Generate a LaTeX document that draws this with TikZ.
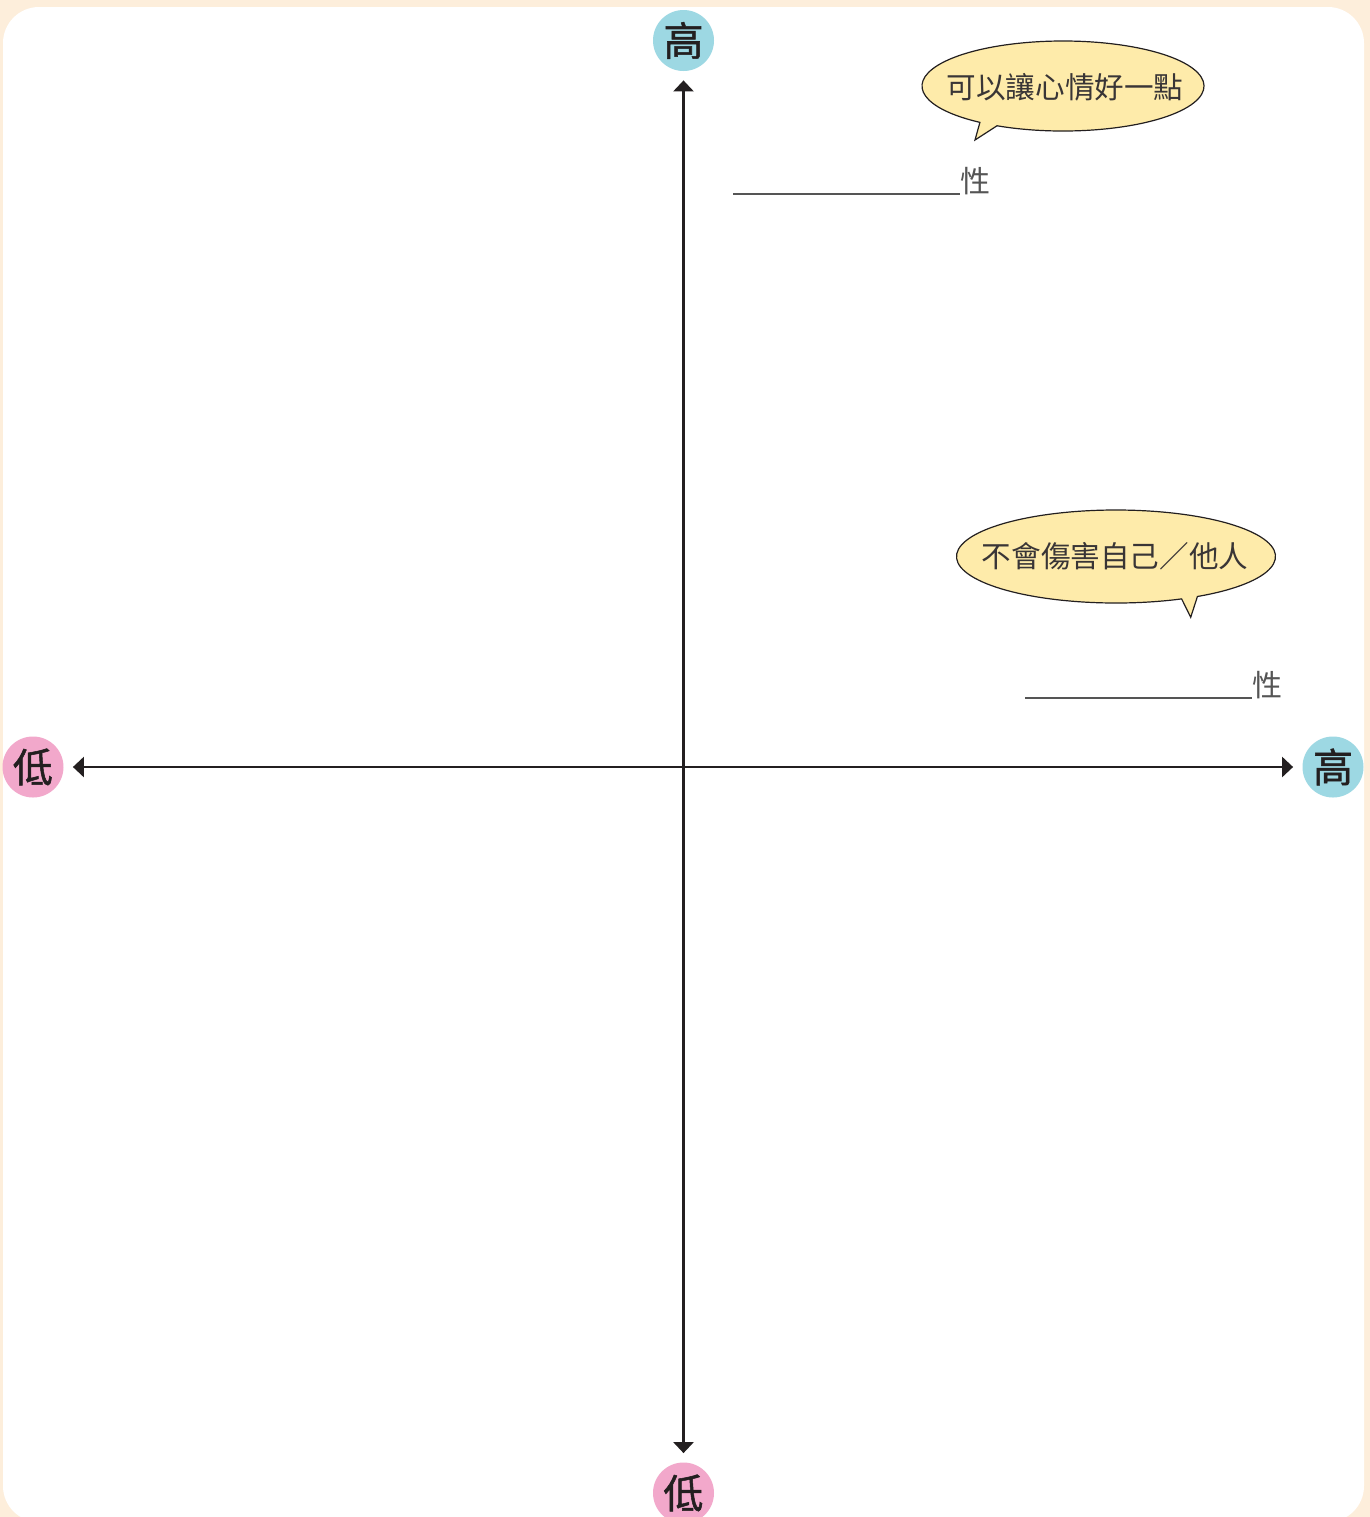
\documentclass[tikz,border=0pt]{standalone}
\usepackage{fontspec}
\newfontfamily\cjk{Noto Sans CJK TC}
\newfontfamily\cjkbold[FakeBold=1.3]{Noto Sans CJK TC}
\usetikzlibrary{arrows.meta}
\definecolor{cream}{HTML}{FDEEDB}
\definecolor{axisblue}{HTML}{9DD8E3}
\definecolor{axispink}{HTML}{F2A8CB}
\definecolor{bubblefill}{HTML}{FEEBAA}
\definecolor{ink}{HTML}{231F20}
\definecolor{graytxt}{HTML}{555555}
\begin{document}
\begin{tikzpicture}[x=0.5pt,y=0.5pt,
  axis/.style={draw=ink, line width=1.25pt,
    {Triangle[width=10pt,length=5.5pt]}-{Triangle[width=10pt,length=5.5pt]},
    shorten <=4.5pt, shorten >=4.5pt},
  endcircle/.style={circle, minimum size=30.5pt, inner sep=0pt,
    font=\cjkbold\fontsize{20pt}{20pt}\selectfont, text=ink},
  bubble/.style={fill=bubblefill, draw=ink, line width=0.6pt},
  bubbletext/.style={font=\cjk\fontsize{14.8pt}{15pt}\selectfont, text=ink!90, inner sep=0pt},
  blank/.style={draw=graytxt, line width=0.6pt},
  suffix/.style={font=\cjk\fontsize{15pt}{15pt}\selectfont, text=graytxt, inner sep=0pt}
]
\clip (0,0) rectangle (1370,-1517);
% frame
\fill[cream] (0,0) rectangle (1370,-1517);
\fill[white, rounded corners=18pt] (3,-7) rectangle (1364,-1522);

% axis end labels
\node[endcircle, fill=axisblue] (ytop) at (683.5,-40.5) {高};
\node[endcircle, fill=axispink] (ybot) at (683.5,-1493) {低};
\node[endcircle, fill=axispink] (xlow) at (33,-767) {低};
\node[endcircle, fill=axisblue] (xhigh) at (1333,-767) {高};

% axes
\draw[axis] (ytop) -- (ybot);
\draw[axis] (xlow) -- (xhigh);

% bubble 1
\coordinate (b1c) at (1063,-86);
\coordinate (b1tip) at (975,-140);
\path[bubble] ([shift={(242.1:70.5pt and 22.5pt)}]b1c)
  arc[start angle=242.1, end angle=593.9, x radius=70.5pt, y radius=22.5pt]
  -- (b1tip) -- cycle;
\node[bubbletext] (t1) at (1065,-87) {可以讓心情好一點};

% bubble 2
\coordinate (b2c) at (1116,-556.5);
\coordinate (b2tip) at (1190.7,-617.3);
\path[bubble] ([shift={(300.7:79.75pt and 23.25pt)}]b2c)
  arc[start angle=300.7, end angle=654.3, x radius=79.75pt, y radius=23.25pt]
  -- (b2tip) -- cycle;
\node[bubbletext] (t2) at (1115,-556) {不會傷害自己／他人};

% blanks
\coordinate (l1a) at (733,-194);
\coordinate (l1b) at (960,-194);
\draw[blank] (l1a) -- (l1b);
\node[suffix] (s1) at (975,-181) {性};

\coordinate (l2a) at (1025,-698);
\coordinate (l2b) at (1252,-698);
\draw[blank] (l2a) -- (l2b);
\node[suffix] (s2) at (1267,-685) {性};
\end{tikzpicture}
\end{document}
